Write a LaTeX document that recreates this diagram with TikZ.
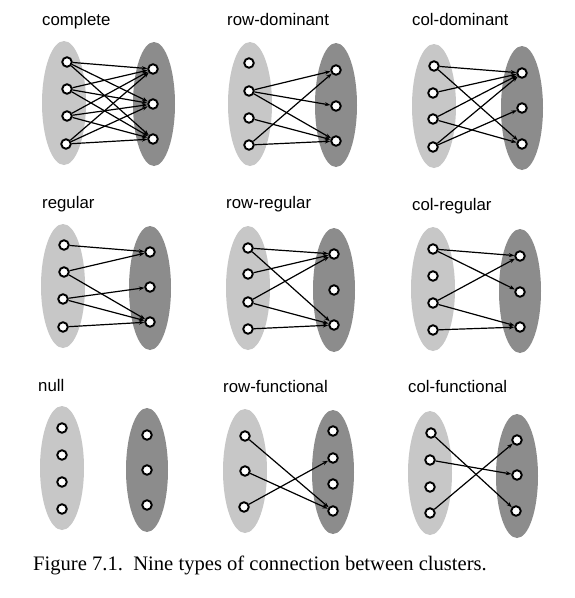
\documentclass[tikz,border=0pt]{standalone}
\usepackage{fontspec}
\setmainfont{Liberation Serif}
\setsansfont{Liberation Sans}
\usetikzlibrary{arrows.meta}
\definecolor{lightcl}{gray}{0.78}
\definecolor{darkcl}{gray}{0.55}
\tikzset{
  unit/.style={circle, draw=black, fill=white, line width=1.9pt, inner sep=0pt, minimum size=9.5pt},
  lclus/.style={fill=lightcl, draw=none},
  rclus/.style={fill=darkcl, draw=none},
  conn/.style={line width=1.2pt, -{Stealth[length=5.5pt,width=4pt]}},
  ttl/.style={anchor=base west, inner sep=0pt, font=\sffamily\fontsize{16.8}{19}\selectfont},
}
\begin{document}
\begin{tikzpicture}[x=1pt,y=-1pt]
\useasboundingbox (0,0) rectangle (574,598);
% ---------- clusters ----------
\foreach \cx/\cy in {64/103, 250/104, 434/106, 63/286, 248/288, 433/289, 62/468, 245/471, 430/473}
  \fill[lclus] (\cx,\cy) ellipse [x radius=22, y radius=62];
\foreach \cx/\cy in {154/104, 336/105, 522/108, 150/288, 334/290, 520/291, 147/470, 333/472, 517/476}
  \fill[rclus] (\cx,\cy) ellipse [x radius=21, y radius=62];
% ---------- titles ----------
\node[ttl] (t1) at (42,25) {complete};
\node[ttl] (t2) at (227,25) {row-dominant};
\node[ttl] (t3) at (412,25) {col-dominant};
\node[ttl] (t4) at (42,208) {regular};
\node[ttl] (t5) at (226,208) {row-regular};
\node[ttl] (t6) at (412,210) {col-regular};
\node[ttl] (t7) at (38,391) {null};
\node[ttl] (t8) at (223,392) {row-functional};
\node[ttl] (t9) at (408,392) {col-functional};
% ---------- panel 1: complete ----------
\node[unit] (a1) at (67,62) {};
\node[unit] (a2) at (67,89) {};
\node[unit] (a3) at (67,116) {};
\node[unit] (a4) at (66,144) {};
\node[unit] (b1) at (153,69) {};
\node[unit] (b2) at (153,104) {};
\node[unit] (b3) at (153,139) {};
\foreach \i in {1,...,4} \foreach \j in {1,2,3} \draw[conn] (a\i) -- (b\j);
% ---------- panel 2: row-dominant ----------
\node[unit] (c1) at (249,63) {};
\node[unit] (c2) at (249,91) {};
\node[unit] (c3) at (249,118) {};
\node[unit] (c4) at (249,145) {};
\node[unit] (d1) at (336,70) {};
\node[unit] (d2) at (336,106) {};
\node[unit] (d3) at (336,141) {};
\draw[conn] (c2) -- (d1);
\draw[conn] (c2) -- (d2);
\draw[conn] (c2) -- (d3);
\draw[conn] (c3) -- (d3);
\draw[conn] (c4) -- (d1);
\draw[conn] (c4) -- (d3);
% ---------- panel 3: col-dominant ----------
\node[unit] (e1) at (434,66) {};
\node[unit] (e2) at (433,93) {};
\node[unit] (e3) at (433,119) {};
\node[unit] (e4) at (433,147) {};
\node[unit] (f1) at (522,73) {};
\node[unit] (f2) at (522,108) {};
\node[unit] (f3) at (522,144) {};
\draw[conn] (e1) -- (f1);
\draw[conn] (e1) -- (f3);
\draw[conn] (e2) -- (f1);
\draw[conn] (e3) -- (f1);
\draw[conn] (e3) -- (f3);
\draw[conn] (e4) -- (f1);
\draw[conn] (e4) -- (f2);
% ---------- panel 4: regular ----------
\node[unit] (g1) at (64,245) {};
\node[unit] (g2) at (64,272) {};
\node[unit] (g3) at (63,299) {};
\node[unit] (g4) at (63,327) {};
\node[unit] (h1) at (150,252) {};
\node[unit] (h2) at (150,287) {};
\node[unit] (h3) at (150,322) {};
\draw[conn] (g1) -- (h1);
\draw[conn] (g2) -- (h1);
\draw[conn] (g2) -- (h3);
\draw[conn] (g3) -- (h2);
\draw[conn] (g3) -- (h3);
\draw[conn] (g4) -- (h3);
% ---------- panel 5: row-regular ----------
\node[unit] (i1) at (248,248) {};
\node[unit] (i2) at (248,274) {};
\node[unit] (i3) at (248,302) {};
\node[unit] (i4) at (248,329) {};
\node[unit] (j1) at (334,254) {};
\node[unit] (j2) at (334,290) {};
\node[unit] (j3) at (334,325) {};
\draw[conn] (i1) -- (j1);
\draw[conn] (i1) -- (j3);
\draw[conn] (i2) -- (j1);
\draw[conn] (i3) -- (j1);
\draw[conn] (i3) -- (j3);
\draw[conn] (i4) -- (j3);
% ---------- panel 6: col-regular ----------
\node[unit] (k1) at (433,249) {};
\node[unit] (k2) at (433,276) {};
\node[unit] (k3) at (433,303) {};
\node[unit] (k4) at (433,330) {};
\node[unit] (l1) at (520,256) {};
\node[unit] (l2) at (520,292) {};
\node[unit] (l3) at (520,327) {};
\draw[conn] (k1) -- (l1);
\draw[conn] (k1) -- (l2);
\draw[conn] (k3) -- (l1);
\draw[conn] (k3) -- (l3);
\draw[conn] (k4) -- (l3);
% ---------- panel 7: null ----------
\node[unit] (m1) at (62,428) {};
\node[unit] (m2) at (62,455) {};
\node[unit] (m3) at (62,482) {};
\node[unit] (m4) at (62,509) {};
\node[unit] (n1) at (147,435) {};
\node[unit] (n2) at (147,470) {};
\node[unit] (n3) at (147,505) {};
% ---------- panel 8: row-functional ----------
\node[unit] (o1) at (245,436) {};
\node[unit] (o2) at (245,471) {};
\node[unit] (o3) at (244,507) {};
\node[unit] (q1) at (333,431) {};
\node[unit] (q2) at (333,458) {};
\node[unit] (q3) at (333,484) {};
\node[unit] (q4) at (333,511) {};
\draw[conn] (o1) -- (q4);
\draw[conn] (o2) -- (q4);
\draw[conn] (o3) -- (q2);
% ---------- panel 9: col-functional ----------
\node[unit] (r1) at (431,433) {};
\node[unit] (r2) at (430,460) {};
\node[unit] (r3) at (430,487) {};
\node[unit] (r4) at (430,513) {};
\node[unit] (s1) at (517,440) {};
\node[unit] (s2) at (517,475) {};
\node[unit] (s3) at (516,511) {};
\draw[conn] (r1) -- (s3);
\draw[conn] (r2) -- (s2);
\draw[conn] (r4) -- (s1);
% ---------- caption ----------
\node[anchor=base west, inner sep=0pt, font=\fontsize{20.6}{23}\selectfont] (cap) at (33,570) {Figure 7.1.\ \ Nine types of connection between clusters.};
\end{tikzpicture}
\end{document}
